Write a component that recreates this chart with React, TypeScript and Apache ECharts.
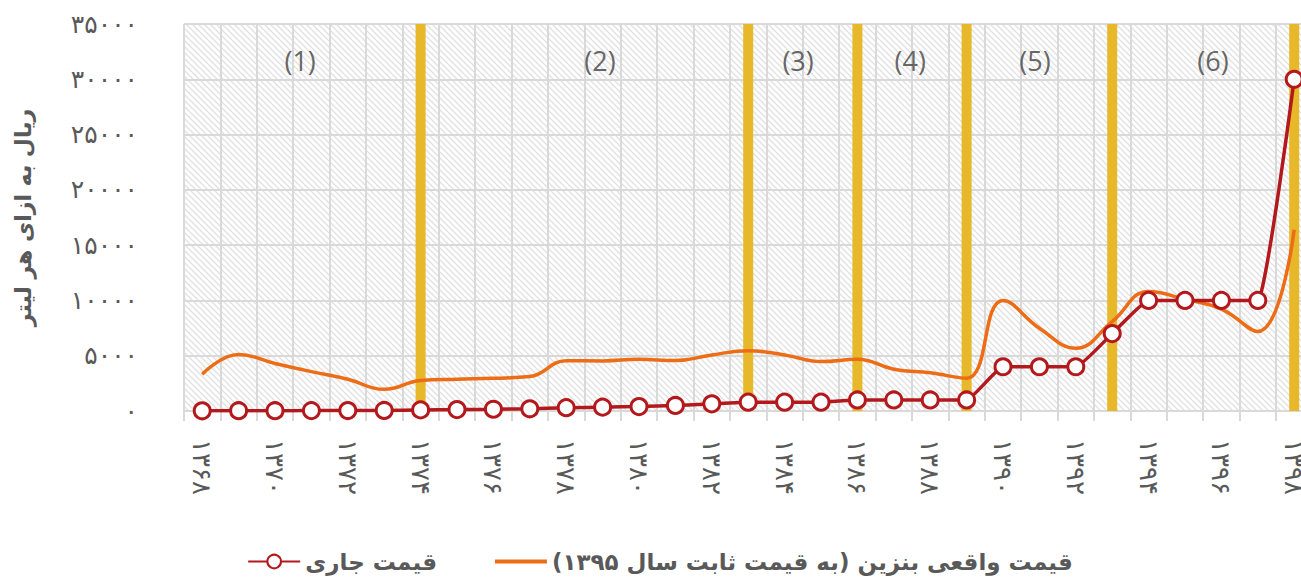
import React, { useEffect, useRef } from "react";
import * as echarts from "echarts";

// ---------- data ----------
const years = [
  1368, 1369, 1370, 1371, 1372, 1373, 1374, 1375, 1376, 1377, 1378, 1379, 1380,
  1381, 1382, 1383, 1384, 1385, 1386, 1387, 1388, 1389, 1390, 1391, 1392, 1393,
  1394, 1395, 1396, 1397, 1398,
];
// nominal price (rial per litre)
const currentPrice = [
  20, 25, 25, 35, 40, 50, 100, 130, 160, 200, 300, 350, 400, 500, 650, 800, 800,
  800, 1000, 1000, 1000, 1000, 4000, 4000, 4000, 7000, 10000, 10000, 10000,
  10000, 30000,
];
// real price at constant 1395 prices
const realPrice = [
  3330, 5100, 4300, 3560, 2870, 1960, 2750, 2870, 2960, 3110, 4550, 4530, 4680,
  4560, 5070, 5460, 5070, 4470, 4680, 3780, 3450, 2960, 10000, 7490, 5680, 8090,
  10810, 10100, 9210, 7190, 16400,
];
// years where a price-change period ends (yellow markers)
const boundaryYears = [1374, 1383, 1386, 1389, 1393, 1398];
const periodLabels = ["(1)", "(2)", "(3)", "(4)", "(5)", "(6)"];
// label anchor in category units (0 = left edge of plot, 31 = right edge)
const periodLabelX = [3.19, 11.43, 16.87, 19.95, 23.38, 28.27];
const periodLabelY = 31700;
const yTicks = { min: 0, max: 35000, interval: 5000 };

const seriesNames = {
  current: "قیمت جاری",
  real: "قیمت واقعی بنزین (به قیمت ثابت سال ۱۳۹۵)",
};
const yAxisTitle = "ریال به ازای هر لیتر";

const toFa = (n: number | string) =>
  String(n).replace(/[0-9]/g, (d) => "۰۱۲۳۴۵۶۷۸۹"[Number(d)]);

function makeHatch() {
  const c = document.createElement("canvas");
  c.width = 6;
  c.height = 6;
  const ctx = c.getContext("2d")!;
  ctx.fillStyle = "#ffffff";
  ctx.fillRect(0, 0, 6, 6);
  ctx.strokeStyle = "#e0e0e0";
  ctx.lineWidth = 1.3;
  ctx.beginPath();
  for (let k = -6; k <= 6; k += 6) {
    ctx.moveTo(k - 1, -1);
    ctx.lineTo(k + 7, 7);
  }
  ctx.stroke();
  return {
    image: c,
    repeat: "repeat",
    imageWidth: 6,
    imageHeight: 6,
  } as any;
}

export default function App() {
  const ref = useRef<HTMLDivElement>(null);
  useEffect(() => {
    if (!ref.current) return;
    const chart = echarts.init(ref.current, undefined, { renderer: "svg" });
    const gray = "#595959";
    const gridColor = "#d9d9d9";
    const faFont = "DejaVu Sans";
    const cats = years.map((y) => toFa(y));
    const barData = years.map((y) =>
      boundaryYears.includes(y) ? yTicks.max : null
    );
    const orange = "#ED6D16";
    const red = "#B3191C";
    chart.setOption({
      animation: false,
      grid: {
        left: 184,
        top: 24,
        width: 1128.4,
        height: 387,
        show: true,
        backgroundColor: makeHatch(),
        borderWidth: 0,
      },
      legend: {
        data: [
          { name: seriesNames.current },
          {
            name: seriesNames.real,
            icon: "path://M0,0H52V4H0Z",
          },
        ],
        left: "center",
        top: 545,
        itemWidth: 52,
        itemHeight: 17,
        itemGap: 58,
        textStyle: {
          fontFamily: faFont,
          fontWeight: "bold",
          fontSize: 23,
          color: gray,
        },
      },
      xAxis: [
        {
          type: "category",
          data: cats,
          boundaryGap: true,
          axisLine: { show: true, lineStyle: { color: gridColor, width: 2 } },
          axisTick: {
            show: true,
            interval: 0,
            length: 10,
            lineStyle: { color: gridColor, width: 2 },
          },
          splitLine: {
            show: true,
            interval: 0,
            lineStyle: { color: gridColor, width: 2 },
          },
          axisLabel: {
            interval: 1,
            rotate: -90,
            margin: 28,
            fontFamily: faFont,
            fontSize: 26,
            color: gray,
          },
        },
        {
          type: "value",
          min: 0,
          max: years.length,
          show: false,
        },
      ],
      yAxis: {
        type: "value",
        min: yTicks.min,
        max: yTicks.max,
        interval: yTicks.interval,
        name: yAxisTitle,
        nameLocation: "middle",
        nameGap: 150,
        nameRotate: 90,
        nameTextStyle: {
          fontFamily: faFont,
          fontWeight: "bold",
          fontSize: 22,
          color: gray,
        },
        axisLine: { show: false },
        axisTick: { show: false },
        splitLine: { show: true, lineStyle: { color: gridColor, width: 2 } },
        axisLabel: {
          margin: 46,
          fontFamily: faFont,
          fontSize: 25,
          color: gray,
          formatter: (v: number) => toFa(v),
        },
      },
      series: [
        {
          type: "bar",
          data: barData,
          barWidth: 10,
          itemStyle: { color: "#E6B82A" },
          silent: true,
          z: 1,
        },
        {
          name: seriesNames.real,
          type: "line",
          data: realPrice,
          smooth: 0.45,
          symbol: "none",
          lineStyle: { color: orange, width: 3.5 },
          itemStyle: { color: orange },
          z: 3,
        },
        {
          name: seriesNames.current,
          type: "line",
          data: currentPrice,
          smooth: 0.12,
          symbol: "circle",
          symbolSize: 16,
          lineStyle: { color: red, width: 3.5 },
          itemStyle: { color: "#ffffff", borderColor: red, borderWidth: 3 },
          z: 4,
        },
        {
          type: "scatter",
          xAxisIndex: 1,
          data: periodLabelX.map((x, i) => [x, periodLabelY, periodLabels[i]]),
          symbolSize: 0,
          silent: true,
          label: {
            show: true,
            position: "inside",
            formatter: (p: any) => p.data[2],
            fontFamily: "Open Sans",
            fontSize: 27,
            color: "#404040",
          },
          z: 5,
        },
      ],
    });
    return () => chart.dispose();
  }, []);
  return (
    <div
      style={{
        position: "absolute",
        left: 0,
        top: 0,
        width: 1301,
        height: 582,
        overflow: "hidden",
      }}
    >
      <div ref={ref} style={{ width: 1320, height: 582 }} />
    </div>
  );
}
